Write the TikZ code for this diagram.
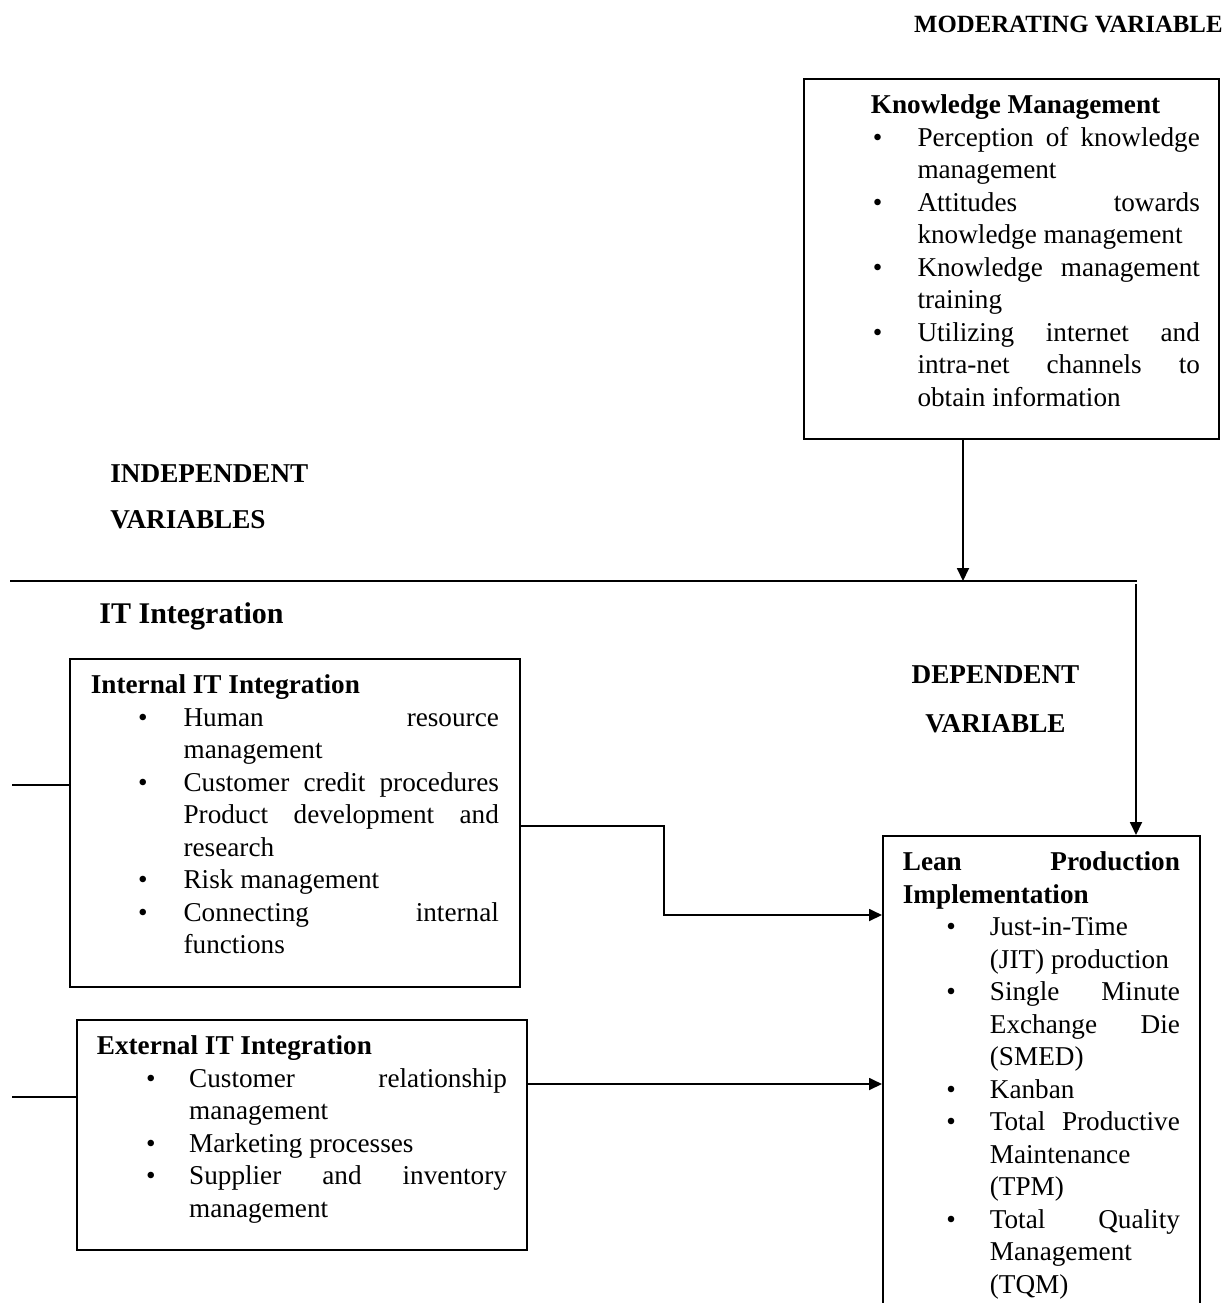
\documentclass[tikz,border=0pt]{standalone}
\usepackage{fontspec}
\setmainfont{Liberation Serif}
\usetikzlibrary{arrows.meta,positioning}

\newcommand{\bodyfont}{\fontsize{13.6}{16.25}\selectfont\tolerance=10000 \hbadness=10000 \hyphenpenalty=10000 }
\newenvironment{bulletlist}[2]{%
  \begin{list}{\textbullet}{%
    \setlength{\leftmargin}{#1}%
    \setlength{\labelsep}{#2}%
    \setlength{\labelwidth}{\dimexpr#1-#2\relax}%
    \setlength{\itemindent}{0pt}%
    \setlength{\topsep}{0pt}\setlength{\partopsep}{0pt}%
    \setlength{\itemsep}{0pt}\setlength{\parsep}{0pt}}}%
  {\end{list}}

\tikzset{
  panel/.style={draw, line width=0.9pt, anchor=north west, inner xsep=#1, inner ysep=8pt, font=\bodyfont},
  panel/.default=10pt,
  heading/.style={font=\bfseries\bodyfont, inner sep=0pt},
  link/.style={line width=0.9pt},
}

\begin{document}
\begin{tikzpicture}[x=0.5pt, y=-0.5pt, >={Triangle[length=6.5pt,width=6pt]}]
  \useasboundingbox (0,0) rectangle (1228,1303);
  \clip (0,0) rectangle (1228,1303);

  % headings
  \node[heading, font=\bfseries\fontsize{12.4}{15}\selectfont, anchor=base east] (modhead) at (1223,32) {MODERATING VARIABLE};
  \node[heading, anchor=base west] (indhead) at (110,482) {INDEPENDENT};
  \node[heading, anchor=base west] (indhead2) at (110,528) {VARIABLES};
  \node[heading, anchor=base] (dephead) at (995.5,683) {DEPENDENT};
  \node[heading, anchor=base] (dephead2) at (995.5,732) {VARIABLE};
  \node[heading, font=\bfseries\fontsize{15}{18}\selectfont, anchor=base west] (ithead) at (99,623) {IT Integration};

  % moderating variable
  \node[panel=9.5pt] (km) at (803,78) {\begin{minipage}[t][164pt][t]{188.5pt}
    \hspace*{24pt}\textbf{Knowledge Management}
    \begin{bulletlist}{47.3pt}{17.5pt}
    \item Perception of knowledge\linebreak management
    \item Attitudes towards\linebreak knowledge management
    \item Knowledge management\linebreak training
    \item Utilizing internet and\linebreak intra-net channels to\linebreak obtain information
    \end{bulletlist}\end{minipage}};

  % independent variables
  \node[panel=10.5pt] (int) at (69,658) {\begin{minipage}[t][148pt][t]{204pt}
    \textbf{Internal IT Integration}
    \begin{bulletlist}{46.35pt}{18pt}
    \item Human resource\linebreak management
    \item Customer credit procedures\linebreak Product development and\linebreak research
    \item Risk management
    \item Connecting internal\linebreak functions
    \end{bulletlist}\end{minipage}};
  \node[panel=10pt] (ext) at (76,1019) {\begin{minipage}[t][99pt][t]{205pt}
    \textbf{External IT Integration}
    \begin{bulletlist}{46.15pt}{16.75pt}
    \item Customer relationship\linebreak management
    \item Marketing processes
    \item Supplier and inventory\linebreak management
    \end{bulletlist}\end{minipage}};

  % dependent variable
  \node[panel=10pt] (lean) at (882,835) {\begin{minipage}[t][226pt][t]{138.5pt}
    \textbf{Lean Production\linebreak Implementation}
    \begin{bulletlist}{43.5pt}{17pt}
    \item Just-in-Time\newline (JIT) production
    \item Single Minute\linebreak Exchange Die\linebreak (SMED)
    \item Kanban
    \item Total Productive\linebreak Maintenance\newline (TPM)
    \item Total Quality\linebreak Management\newline (TQM)
    \end{bulletlist}\end{minipage}};

  % connectors
  \coordinate (split) at (963,581);
  \coordinate (barleft) at (10,581);
  \coordinate (barright) at (1137,581);
  \coordinate (drop) at (1136,584);
  \coordinate (intstub) at (12,785);
  \coordinate (extstub) at (12,1097);
  \coordinate (intbend) at (664,826);
  \coordinate (intdrop) at (664,915);
  \coordinate (extout) at (526,1084);
  \draw[link] (barleft) -- (barright);
  \draw[link,->] (km.south -| split) -- (split);
  \draw[link,->] (drop) -- (drop |- lean.north);
  \draw[link] (intstub) -- (intstub -| int.west);
  \draw[link] (extstub) -- (extstub -| ext.west);
  \draw[link,->] (intbend -| int.east) -- (intbend) -- (intdrop) -- (intdrop -| lean.west);
  \draw[link,->] (extout -| ext.east) -- (extout -| lean.west);
\end{tikzpicture}
\end{document}
